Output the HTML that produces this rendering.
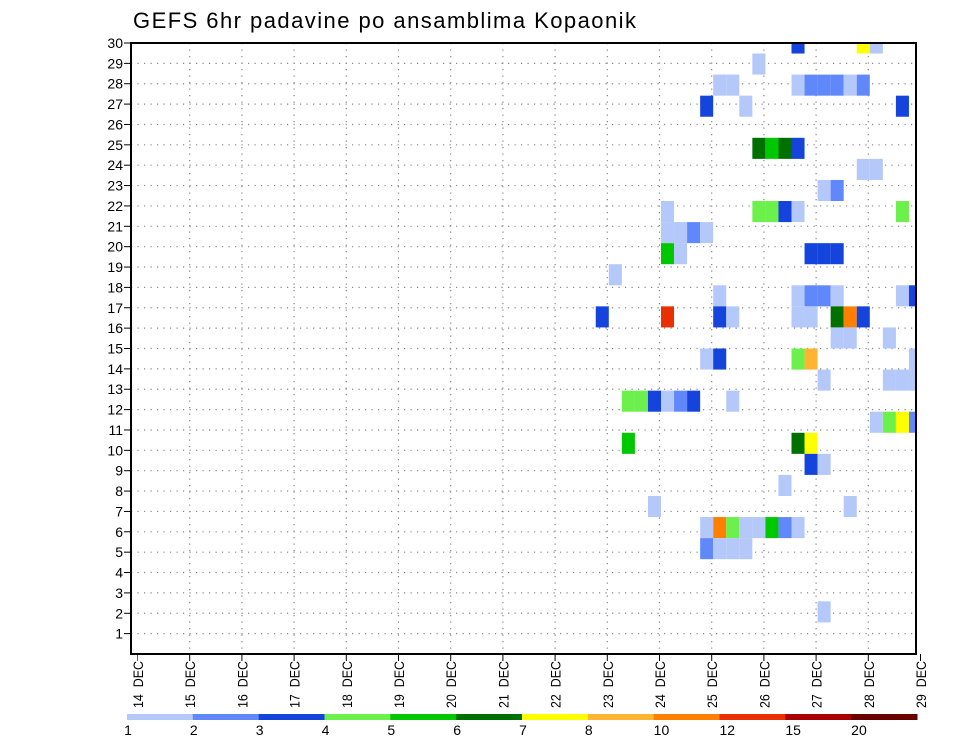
<!DOCTYPE html>
<html><head><meta charset="utf-8"><title>GEFS 6hr padavine</title>
<style>
html,body{margin:0;padding:0;background:#fff;}
svg{display:block;font-family:"Liberation Sans",sans-serif;}
</style></head>
<body>
<svg id="chart" width="960" height="742" viewBox="0 0 960 742" xmlns="http://www.w3.org/2000/svg">
<text x="133" y="28" font-size="22" textLength="503" lengthAdjust="spacing" fill="#000">GEFS 6hr padavine po ansamblima Kopaonik</text>
<g id="grid"></g>
<g id="cells"></g>
<g id="axes"></g>
<g id="cbar"></g>
</svg>
<script>
// ---- data ----
const dayLabels = ["14 DEC","15 DEC","16 DEC","17 DEC","18 DEC","19 DEC","20 DEC","21 DEC","22 DEC","23 DEC","24 DEC","25 DEC","26 DEC","27 DEC","28 DEC","29 DEC"];
const memberLabels = [1,2,3,4,5,6,7,8,9,10,11,12,13,14,15,16,17,18,19,20,21,22,23,24,25,26,27,28,29,30];
const levels = [1,2,3,4,5,6,7,8,10,12,15,20];
const levelColors = ["#b4c8fa","#6088fa","#1444dc","#6cf04c","#00c800","#007000","#ffff00","#ffb432","#ff8000","#e83000","#a80000","#680000"];
// cells: member, 6h step from 14 DEC 00z, precipitation (mm)
const cellMember = [30,30,30, 29, 28,28,28,28,28,28,28,28, 27,27,27, 25,25,25,25, 24,24, 23,23,
 22,22,22,22,22,22, 21,21,21,21, 20,20,20,20,20, 19,
 18,18,18,18,18,18,18, 17,17,17,17,17,17,17,17,17, 16,16,16,
 15,15,15,15,15, 14,14,14,14, 13,13,13,13,13,13,13, 12,12,12,12, 11,11,11, 10,10,
 9, 8,8, 7,7,7,7,7,7,7,7, 6,6,6,6, 3];
const cellStep = [50,55,56, 47, 44,45,50,51,52,53,54,55, 43,46,58, 47,48,49,50, 55,56, 52,53,
 40,47,48,49,50,58, 40,41,42,43, 40,41,51,52,53, 36,
 44,50,51,52,53,58,59, 35,40,44,45,50,51,53,54,55, 53,54,57,
 43,44,50,51,59, 52,57,58,59, 37,38,39,40,41,42,45, 56,57,58,59, 37,50,51, 51,52,
 49, 39,54, 43,44,45,46,47,48,49,50, 43,44,45,46, 52];
const cellValue = [3.5,7.5,1.5, 1.5, 1.5,1.5,1.5,2.5,2.5,2.5,1.5,2.5, 3.5,1.5,3.5, 6.5,5.5,6.5,3.5, 1.5,1.5, 1.5,2.5,
 1.5,4.5,4.5,3.5,1.5,4.5, 1.5,1.5,2.5,1.5, 5.5,1.5,3.5,3.5,3.5, 1.5,
 1.5,1.5,2.5,2.5,1.5,1.5,3.5, 3.5,13.5,3.5,1.5,1.5,1.5,6.5,11,3.5, 1.5,1.5,1.5,
 1.5,3.5,4.5,9,1.5, 1.5,1.5,1.5,1.5, 4.5,4.5,3.5,1.5,2.5,3.5,1.5, 1.5,4.5,7.5,2.5, 5.5,6.5,7.5, 3.5,1.5,
 1.5, 1.5,1.5, 1.5,11,4.5,1.5,1.5,5.5,2.5,1.5, 2.5,1.5,1.5,1.5, 1.5];

// ---- geometry ----
const L=131, R=916, T=43, B=654;
const dayW=52.2, x0=137.5, stepW=dayW/4, cellX0=139;
const xDay = d => x0 + d*dayW;
const xStep = s => cellX0 + s*stepW;
const yLabel = m => B - m*(B-T)/30;
const cellH = (B-T)/29;
const yCell = m => T + (30-m)*cellH;
const colorFor = v => { let c=levelColors[0]; for(let i=0;i<levels.length;i++){ if(v>=levels[i]) c=levelColors[i]; } return c; };
const NS="http://www.w3.org/2000/svg";
function mk(tag, attrs, parent){ const e=document.createElementNS(NS,tag); for(const k in attrs) e.setAttribute(k,attrs[k]); parent.appendChild(e); return e; }

const grid=document.getElementById('grid'), cells=document.getElementById('cells'), axes=document.getElementById('axes'), cbar=document.getElementById('cbar');

const defs=mk('defs',{},document.getElementById('chart'));
const cp=mk('clipPath',{id:'plotclip'},defs); mk('rect',{x:L,y:T,width:R-L,height:B-T},cp);
cells.setAttribute('clip-path','url(#plotclip)');

for(let i=0;i<cellMember.length;i++){
  const r=mk('rect',{x:xStep(cellStep[i]).toFixed(2), y:(yCell(cellMember[i])-cellH/2).toFixed(2), width:stepW.toFixed(2), height:cellH.toFixed(2), fill:colorFor(cellValue[i])},cells);
  
  
}

memberLabels.forEach(m=>{
  const y=yLabel(m);
  const g=mk('line',{x1:L,x2:R,y1:y,y2:y,stroke:'#888','stroke-width':1.2,'stroke-dasharray':'1.2 5.3'},grid);
  
  
  const t=mk('line',{x1:L-7,x2:L,y1:y,y2:y,stroke:'#000','stroke-width':1},axes);
  
  
  const tx=mk('text',{x:L-8,y:y+5,'font-size':14,'text-anchor':'end',fill:'#000'},axes);
  tx.textContent=m;
  
  
});
dayLabels.forEach((d,i)=>{
  const x=xDay(i);
  if(i>0 && x<R){
    const g=mk('line',{x1:x,x2:x,y1:T,y2:B,stroke:'#888','stroke-width':1.2,'stroke-dasharray':'1.2 5.3'},grid);
    
    
  }
  const t=mk('line',{x1:x,x2:x,y1:B,y2:B+7,stroke:i==0?'#c33':'#000','stroke-width':1},axes);
  
  
  const tx=mk('text',{x:0,y:0,'font-size':14,fill:'#000',textLength:47,lengthAdjust:'spacingAndGlyphs',transform:`translate(${x+5.5},708) rotate(-90)`},axes);
  tx.textContent=d.replace(' ','\u00a0\u00a0');
  
  
});
const frame=mk('rect',{x:L,y:T,width:R-L,height:B-T,fill:'none',stroke:'#000','stroke-width':2},axes);



const cbL=127, cbR=917, segW=(cbR-cbL)/levels.length;
levels.forEach((lv,i)=>{
  const r=mk('rect',{x:cbL+i*segW,y:714,width:segW+0.5,height:6,fill:levelColors[i]},cbar);
  
  
  const t=mk('text',{x:cbL+i*segW+(lv>=10?0:1),y:735,'font-size':14,'text-anchor':lv>=10?'start':'middle',fill:'#000'},cbar);
  t.textContent=lv;
  
  
});
</script>
</body></html>
